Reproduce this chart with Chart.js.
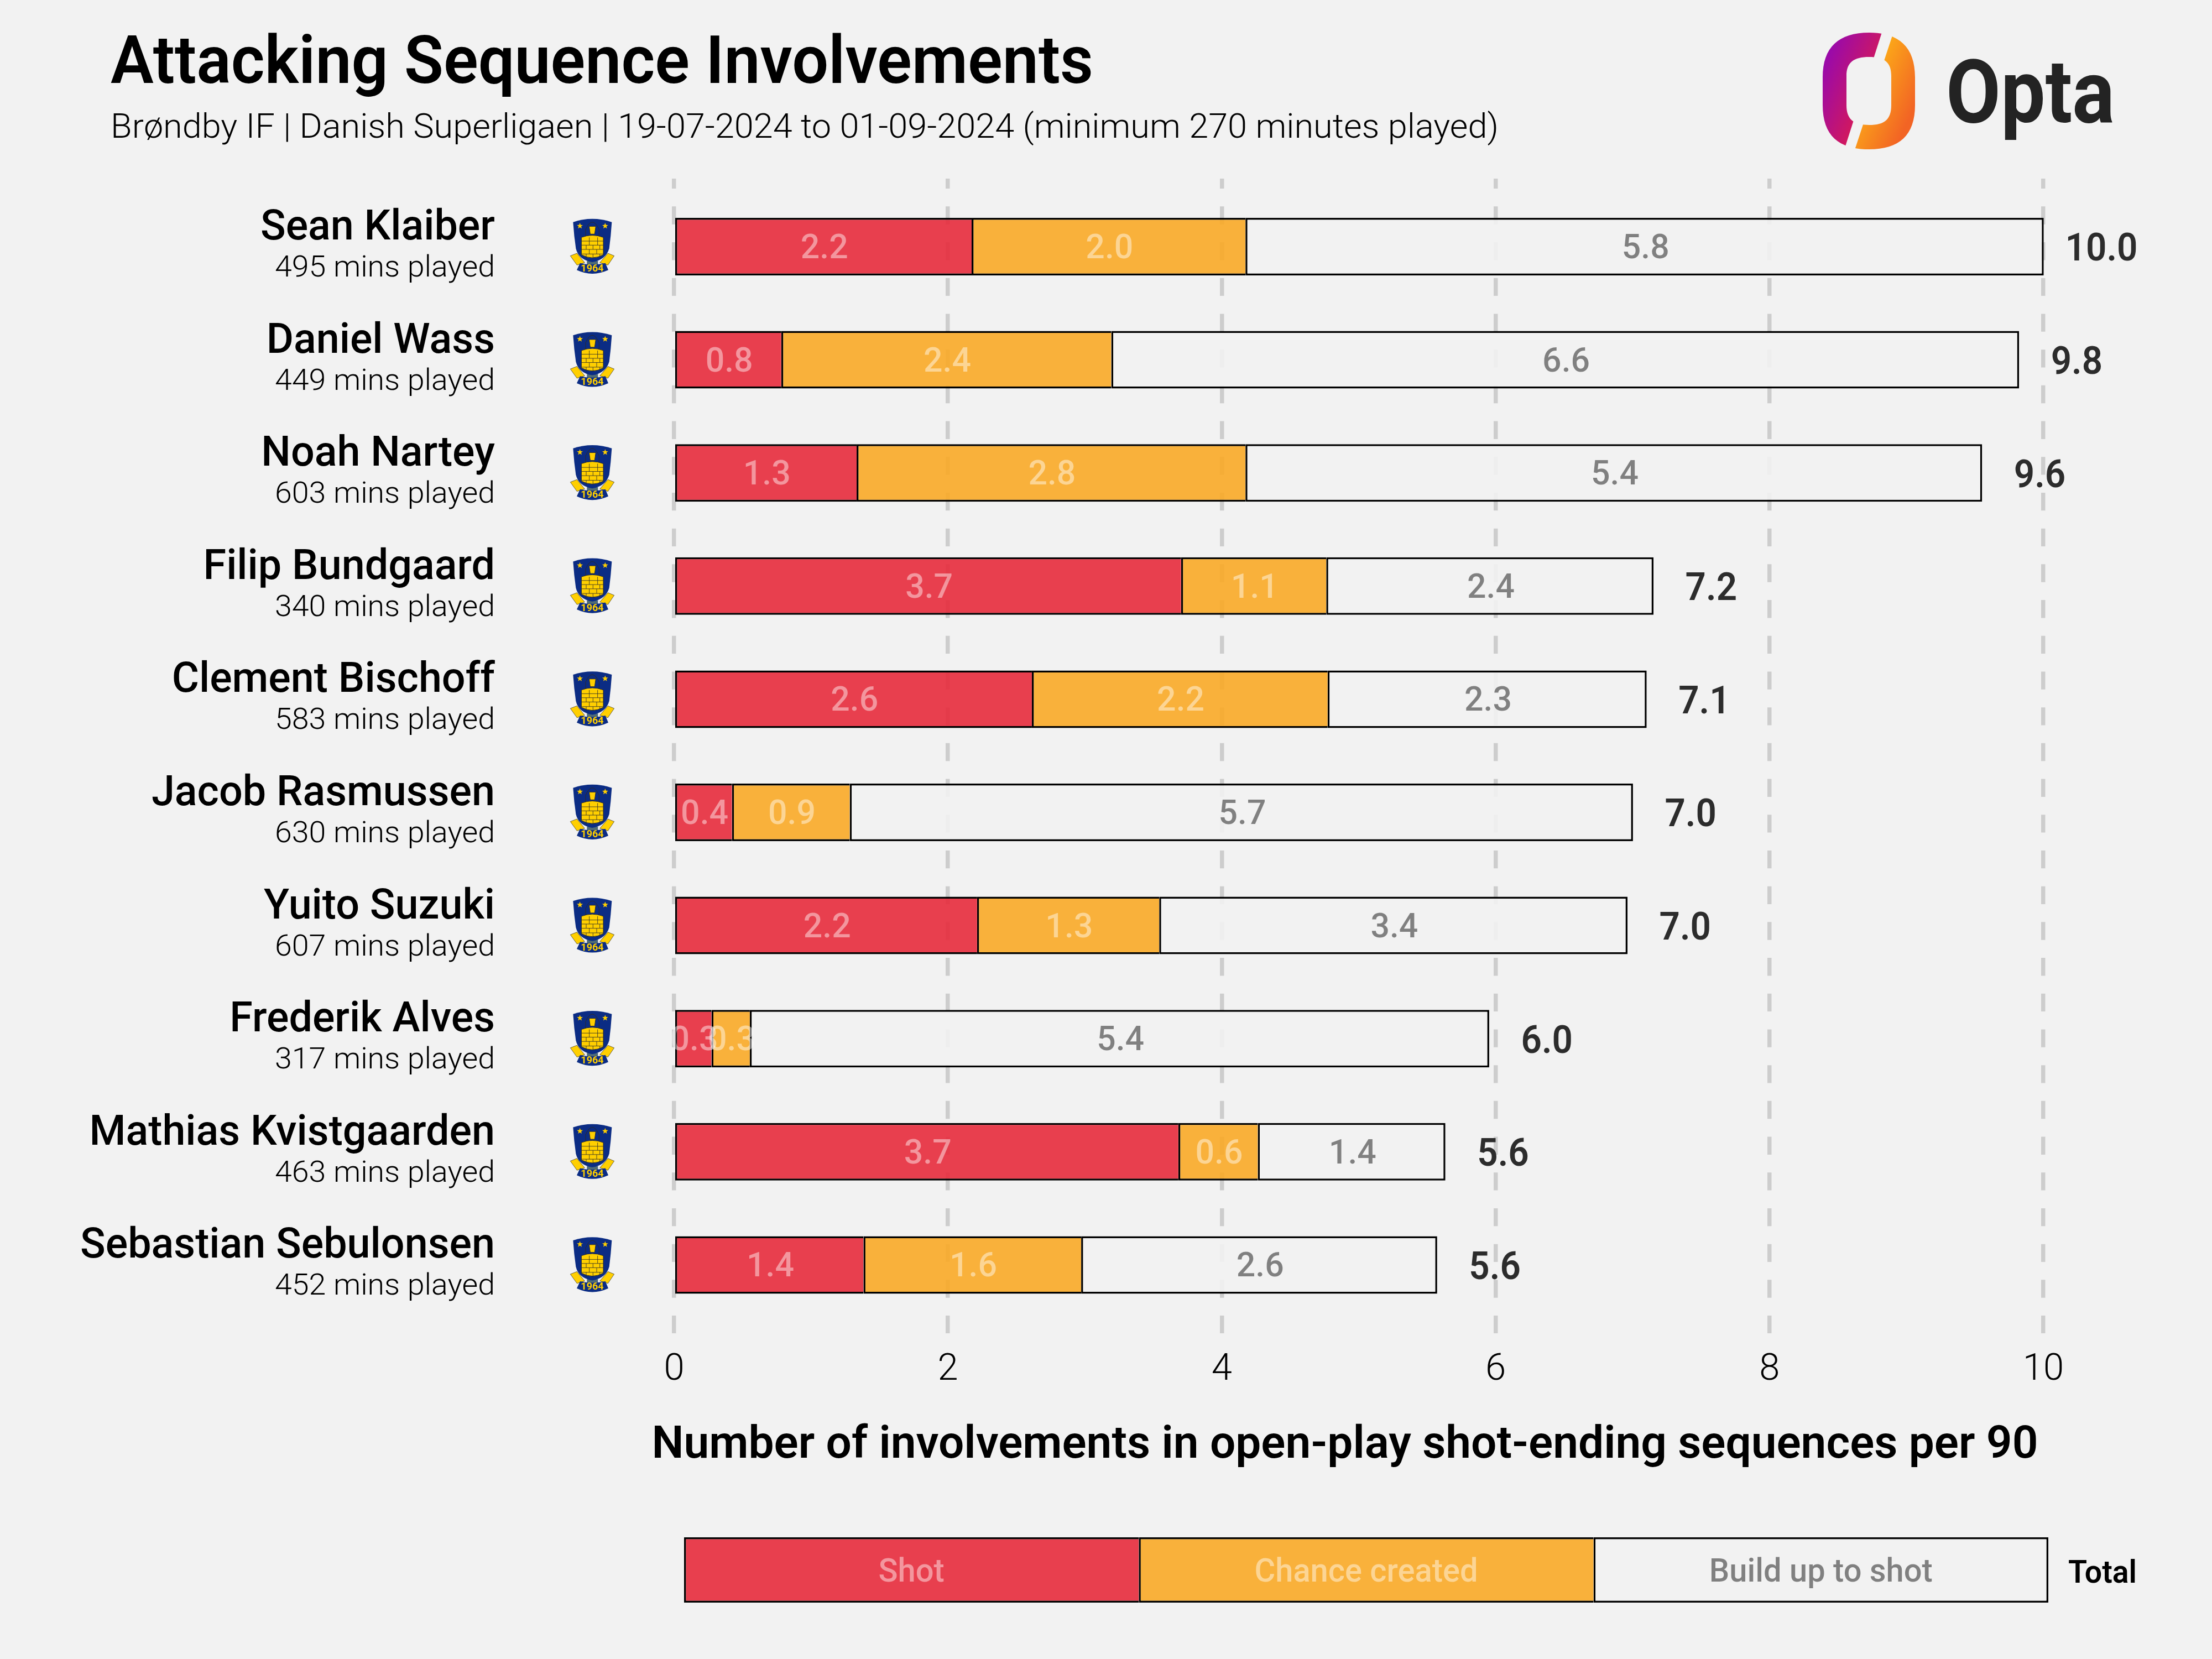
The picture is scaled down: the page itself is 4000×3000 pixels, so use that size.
<!DOCTYPE html>
<html><head><meta charset="utf-8">
<script src="https://cdn.jsdelivr.net/npm/chart.js@4/dist/chart.umd.js"></script>
<style>html,body{margin:0;padding:0;background:#f2f2f2;width:4000px;height:3000px;overflow:hidden}
canvas{position:absolute;display:block}</style></head>
<body>
<canvas id="main" width="4000" height="3000" style="left:0;top:0"></canvas>
<canvas id="key" width="2472" height="122" style="left:1235px;top:2778px"></canvas>
<script>
const players=["Sean Klaiber","Daniel Wass","Noah Nartey","Filip Bundgaard","Clement Bischoff","Jacob Rasmussen","Yuito Suzuki","Frederik Alves","Mathias Kvistgaarden","Sebastian Sebulonsen"];
const minutes=[495,449,603,340,583,630,607,317,463,452];
const shot=[2.18,0.79,1.34,3.71,2.62,0.43,2.22,0.28,3.69,1.39];
const chance=[2.00,2.41,2.84,1.06,2.16,0.86,1.33,0.28,0.58,1.59];
const buildUp=[5.83,6.63,5.38,2.39,2.33,5.72,3.42,5.40,1.37,2.60];
const totals=["10.0","9.8","9.6","7.2","7.1","7.0","7.0","6.0","5.6","5.6"];
const xTicks=[0,2,4,6,8,10];
const seriesNames=["Shot","Chance created","Build up to shot"];
const keyValues=[1,1,1];
const titleText="Attacking Sequence Involvements";
const subtitleText="Brøndby IF | Danish Superligaen | 19-07-2024 to 01-09-2024 (minimum 270 minutes played)";
const axisTitle="Number of involvements in open-play shot-ending sequences per 90";

const F="Roboto, sans-serif";
const RED="rgba(231,43,60,0.9)",ORANGE="rgba(250,170,39,0.9)",PALE="rgba(242,242,242,0.9)";
const LABELS=["rgba(255,255,255,0.45)","rgba(255,255,255,0.45)","rgba(0,0,0,0.47)"];
const EDGE=3.5;
const INNER_EDGE={top:EDGE,bottom:EDGE,left:EDGE,right:0},LAST_EDGE={top:EDGE,bottom:EDGE,left:EDGE,right:EDGE};
Chart.defaults.font.family=F;

function fit(ctx,font,ref,w){ctx.save();ctx.font=font;const m=ctx.measureText(ref).width;ctx.restore();return w/m;}
function T(ctx,s,x,y,font,color,align,sx){ctx.save();ctx.font=font;ctx.fillStyle=color;ctx.textAlign=align;ctx.textBaseline="alphabetic";ctx.translate(x,y);ctx.scale(sx,1);ctx.fillText(s,0,0);ctx.restore();}

function series(values){return values.map((v,i)=>({x:v,y:i}));}
const ds=(label,values,bg,edge)=>({label,data:series(values),backgroundColor:bg,borderColor:"#000",borderWidth:edge,borderSkipped:false,inflateAmount:0,barThickness:104,clip:false});

function star(c,x,y,r){c.beginPath();for(let i=0;i<10;i++){const a=-Math.PI/2+i*Math.PI/5,q=i%2?r*0.42:r;c.lineTo(x+q*Math.cos(a),y+q*Math.sin(a));}c.closePath();c.fill();}
function crest(c,cx,cy){
  c.save();c.translate(cx,cy);c.scale(1/3,1/3);c.translate(-211,-258);
  c.lineJoin="round";
  c.fillStyle="#ffcf00";c.strokeStyle="#222";c.lineWidth=2;
  [[92,308,128,294,170,345,128,358],[330,308,296,294,252,345,296,358]].forEach(p=>{c.beginPath();c.moveTo(p[0],p[1]);c.lineTo(p[2],p[3]);c.lineTo(p[4],p[5]);c.lineTo(p[6],p[7]);c.closePath();c.fill();c.stroke();});
  c.fillStyle="#4e6b78";c.fillRect(182,335,60,28);
  c.fillStyle="#0b2c84";
  c.beginPath();c.moveTo(107,125);c.quadraticCurveTo(211,90,317,125);c.quadraticCurveTo(312,200,303,268);c.quadraticCurveTo(285,330,211,342);c.quadraticCurveTo(137,330,122,268);c.quadraticCurveTo(112,200,107,125);c.closePath();c.fill();
  c.beginPath();c.moveTo(145,347);c.quadraticCurveTo(211,362,282,347);c.lineTo(298,385);c.quadraticCurveTo(211,425,127,385);c.closePath();c.fill();
  c.fillStyle="#ffcf00";star(c,144,146,17);star(c,281,146,17);
  c.strokeStyle="#2a2a2a";c.lineWidth=3;
  c.beginPath();c.moveTo(175,212);c.lineTo(175,165);c.quadraticCurveTo(211,85,248,165);c.lineTo(248,212);c.stroke();
  c.fillStyle="#ffcf00";c.beginPath();c.moveTo(194,148);c.lineTo(230,148);c.lineTo(224,190);c.lineTo(200,190);c.closePath();c.fill();c.stroke();
  c.beginPath();c.moveTo(152,208);c.quadraticCurveTo(211,185,271,208);c.lineTo(271,302);c.quadraticCurveTo(211,335,152,302);c.closePath();c.fill();c.stroke();
  c.lineWidth=2.5;c.beginPath();
  [228,250,273,298].forEach(y=>{c.moveTo(152,y);c.lineTo(271,y);});
  [[195,208,250],[240,208,250],[178,250,273],[215,250,273],[252,250,273],[195,273,298],[235,273,298],[178,298,322],[215,298,322],[252,298,316]].forEach(p=>{c.moveTo(p[0],p[1]);c.lineTo(p[0],p[2]);});
  c.stroke();
  c.restore();
  T(c,"1964",cx,cy+45,"700 18px "+F,"#ffcf00","center",1);
}
function logo(c){
  c.save();
  const shape=()=>{c.beginPath();
    c.moveTo(3296,140);c.bezierCurveTo(3296,85,3325,59,3380,59);c.bezierCurveTo(3434,59,3463,85,3463,140);c.lineTo(3463,190);c.bezierCurveTo(3463,245,3434,270,3380,270);c.bezierCurveTo(3325,270,3296,245,3296,190);c.closePath();
    c.moveTo(3339,137);c.bezierCurveTo(3339,113,3352,103,3380,103);c.bezierCurveTo(3408,103,3420,113,3420,137);c.lineTo(3420,190);c.bezierCurveTo(3420,216,3408,226,3380,226);c.bezierCurveTo(3352,226,3339,216,3339,190);c.closePath();};
  c.save();c.beginPath();c.moveTo(3250,40);c.lineTo(3409,40);c.lineTo(3332,280);c.lineTo(3250,280);c.closePath();c.clip();
  let g=c.createLinearGradient(3296,130,3395,170);g.addColorStop(0,"#9b0aa8");g.addColorStop(1,"#dc1b50");c.fillStyle=g;shape();c.fill("evenodd");c.restore();
  c.save();c.beginPath();c.moveTo(3430,40);c.lineTo(3500,40);c.lineTo(3500,280);c.lineTo(3351,280);c.closePath();c.clip();
  g=c.createLinearGradient(3375,150,3463,190);g.addColorStop(0,"#fcab18");g.addColorStop(1,"#f26424");c.fillStyle=g;shape();c.fill("evenodd");c.restore();
  c.restore();
  const f="700 160px "+F;
  T(c,"Opta",3519,221,f,"#232323","left",fit(c,f,"Opta",305));
}
const centreBorders={id:"centreBorders",
  beforeDatasetsDraw(chart){chart.ctx.save();chart.ctx.translate(-EDGE/2,0);},
  afterDatasetsDraw(chart){chart.ctx.restore();}};
const texts={id:"texts",afterDraw(chart){
  const c=chart.ctx,y=chart.scales.y,x=chart.scales.x;
  let f="600 120px "+F;T(c,titleText,200,150,f,"#000","left",fit(c,f,titleText,1777));
  f="300 62px "+F;T(c,subtitleText,200,249,f,"#000","left",fit(c,f,subtitleText,2510));
  logo(c);
  const fName="500 76px "+F,sName=fit(c,fName,players[9],750);
  const fMin="300 54px "+F,sMin=fit(c,fMin,"495 mins played",398);
  const fLab="500 62px "+F,sLab=fit(c,fLab,"2.6",86);
  const fTot="600 70px "+F,sTot=fit(c,fTot,"10.0",131);
  players.forEach((p,i)=>{
    const py=y.getPixelForValue(i);
    T(c,p,895,py-13,fName,"#000","right",sName);
    T(c,minutes[i]+" mins played",895,py+54,fMin,"#000","right",sMin);
    crest(c,1071,py);
    [shot,chance,buildUp].forEach((vals,k)=>{
      const el=chart.getDatasetMeta(k).data[i];
      const cx=el.getCenterPoint().x;
      T(c,vals[i].toFixed(1),cx,py+21,fLab,LABELS[k],"center",sLab);
    });
    const end=x.getPixelForValue(shot[i]+chance[i]+buildUp[i]);
    T(c,totals[i],end+102.5,py+25.5,fTot,"#2c2c2c","center",sTot);
  });
  f="600 82px "+F;T(c,axisTitle,2432,2636,f,"#000","center",fit(c,f,axisTitle,2507));
  f="600 58px "+F;T(c,"Total",3740,2862,f,"#000","left",fit(c,f,"Total",124));
}};
new Chart(document.getElementById("main"),{type:"bar",
 data:{datasets:[ds(seriesNames[0],shot,RED,INNER_EDGE),ds(seriesNames[1],chance,ORANGE,INNER_EDGE),ds(seriesNames[2],buildUp,PALE,LAST_EDGE)]},
 options:{indexAxis:"y",responsive:false,animation:false,devicePixelRatio:1,
  layout:{padding:{left:1219,right:305,top:323,bottom:489}},
  plugins:{legend:{display:false},tooltip:{enabled:false},title:{display:false}},
  scales:{
   x:{type:"linear",stacked:true,min:xTicks[0],max:xTicks[xTicks.length-1],position:"bottom",
      afterFit(s){s.height=100;},
      afterBuildTicks(s){s.ticks=xTicks.map(v=>({value:v}));},
      grid:{color:"#cdcdcd",lineWidth:7.5,drawTicks:false},
      border:{display:false,dash:[32.35,32.35],dashOffset:14.35},
      ticks:{color:"#000",font:{family:F,size:67,weight:"300"},padding:27,maxRotation:0,autoSkip:false}},
   y:{type:"linear",stacked:true,reverse:true,offset:false,min:-0.601,max:9.604,display:false}
  }},plugins:[centreBorders,texts]});
const keyText={id:"keyText",afterDraw(chart){
  const c=chart.ctx,f="500 60px "+F,s=fit(c,f,seriesNames[2],404);
  seriesNames.forEach((n,k)=>{const el=chart.getDatasetMeta(k).data[0];T(c,n,el.getCenterPoint().x,82,f,LABELS[k],"center",s);});
}};
new Chart(document.getElementById("key"),{type:"bar",
 data:{labels:["key"],datasets:seriesNames.map((n,k)=>({label:n,data:[keyValues[k]],backgroundColor:[RED,ORANGE,PALE][k],borderColor:"#000",borderWidth:k===seriesNames.length-1?LAST_EDGE:INNER_EDGE,borderSkipped:false,inflateAmount:0,barPercentage:1,categoryPercentage:1}))},
 options:{indexAxis:"y",responsive:false,animation:false,devicePixelRatio:1,
  layout:{padding:{left:2,right:3,top:2,bottom:2}},plugins:{legend:{display:false},tooltip:{enabled:false}},
  scales:{x:{stacked:true,min:0,max:keyValues.length,display:false},y:{stacked:true,display:false}}},plugins:[keyText]});
</script></body></html>
